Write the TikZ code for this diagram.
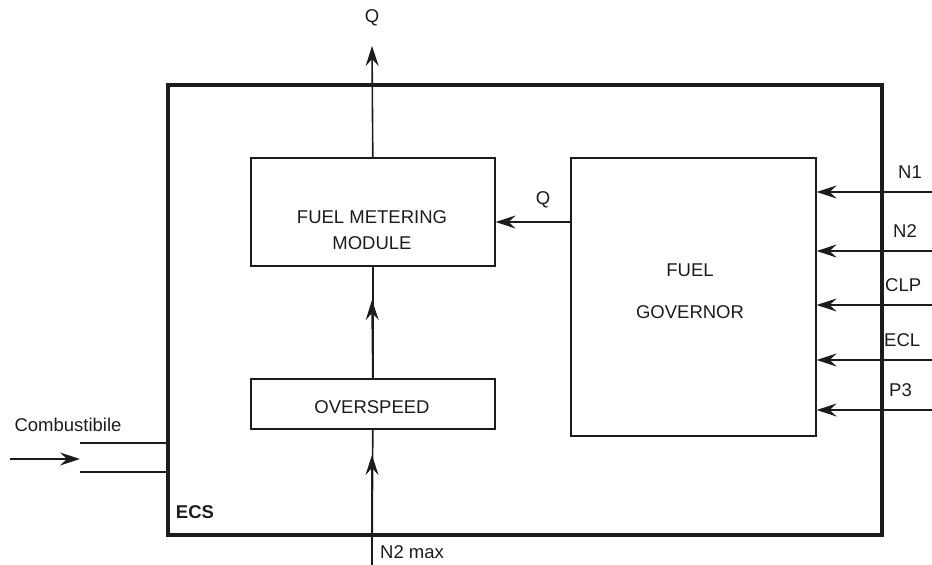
\documentclass[tikz,border=0pt]{standalone}
\usepackage{fontspec}
\setmainfont{Liberation Sans}
\usetikzlibrary{arrows.meta, positioning}
\definecolor{inkblack}{HTML}{1C1C1C}

\tikzset{
  blockbox/.style={draw=inkblack, line width=1.6pt, anchor=north west},
  lbl/.style={font=\fontsize{18.5}{22}\selectfont, text=inkblack, inner sep=0pt},
  arr/.style={draw=inkblack, line width=1.6pt, -{Stealth[length=20pt, width=13pt, inset=7pt]}},
  wire/.style={draw=inkblack, line width=1.6pt}
}

\begin{document}
\begin{tikzpicture}[x=1pt, y=-1pt]
    \useasboundingbox (0,0) rectangle (932,565);

    % outer ECS frame
    \node[draw=inkblack, line width=4pt, anchor=north west, minimum width=714pt, minimum height=450pt, inner sep=0pt] (ecs) at (166,83) {};
    \node[lbl, font=\fontsize{18.5}{22}\selectfont\bfseries] (ecslbl) at (195,512) {ECS};

    % blocks
    \node[blockbox, minimum width=244pt, minimum height=108pt] (fmm) at (250,157) {};
    \node[blockbox, minimum width=244pt, minimum height=50pt] (ovs) at (250,378) {};
    \node[blockbox, minimum width=245pt, minimum height=278pt] (gov) at (570,157) {};

    \node[lbl, align=center] (fmmtxt) at (372,230) {FUEL METERING\\[4pt]MODULE};
    \node[lbl] (ovstxt) at (372,407) {OVERSPEED};
    \node[lbl] (govtop) at (690,270) {FUEL};
    \node[lbl] (govbot) at (690,312) {GOVERNOR};

    % output Q
    \coordinate (qout) at (372,46);
    \draw[arr] (fmm.north) -- (qout);
    \node[lbl] (qtop) at (372,18) {Q};

    % governor -> metering
    \draw[arr] (gov.west |- 0,222) -- (fmm.east |- 0,222);
    \node[lbl] (qmid) at (543,200) {Q};

    % overspeed -> metering, arrowhead mid-way
    \coordinate (ovsmid) at (372,300);
    \draw[wire] (ovs.north) -- (fmm.south);
    \draw[arr] (ovs.north) -- (ovsmid);

    % N2 max input
    \coordinate (n2in) at (372,565);
    \coordinate (n2mid) at (372,455);
    \draw[wire] (n2in) -- (ovs.south);
    \draw[arr] (n2in) -- (n2mid);
    \node[lbl, anchor=west] (n2lbl) at (380,552) {N2 max};

    % governor inputs
    \foreach \y/\t/\lx in {192/N1/898, 251/N2/893, 305/CLP/885, 360/ECL/884, 410/P3/889} {
      \draw[arr] (932,\y) -- (gov.east |- 0,\y);
      \node[lbl, anchor=west] at (\lx,\y-20) {\t};
    }

    % fuel supply
    \coordinate (fin) at (10,459);
    \coordinate (fend) at (80,459);
    \coordinate (fup) at (80,443);
    \coordinate (flo) at (80,472);
    \draw[arr] (fin) -- (fend);
    \draw[wire] (fup) -- (ecs.west |- fup);
    \draw[wire] (flo) -- (ecs.west |- flo);
    \node[lbl] (fuellbl) at (68,425) {Combustibile};
\end{tikzpicture}
\end{document}
